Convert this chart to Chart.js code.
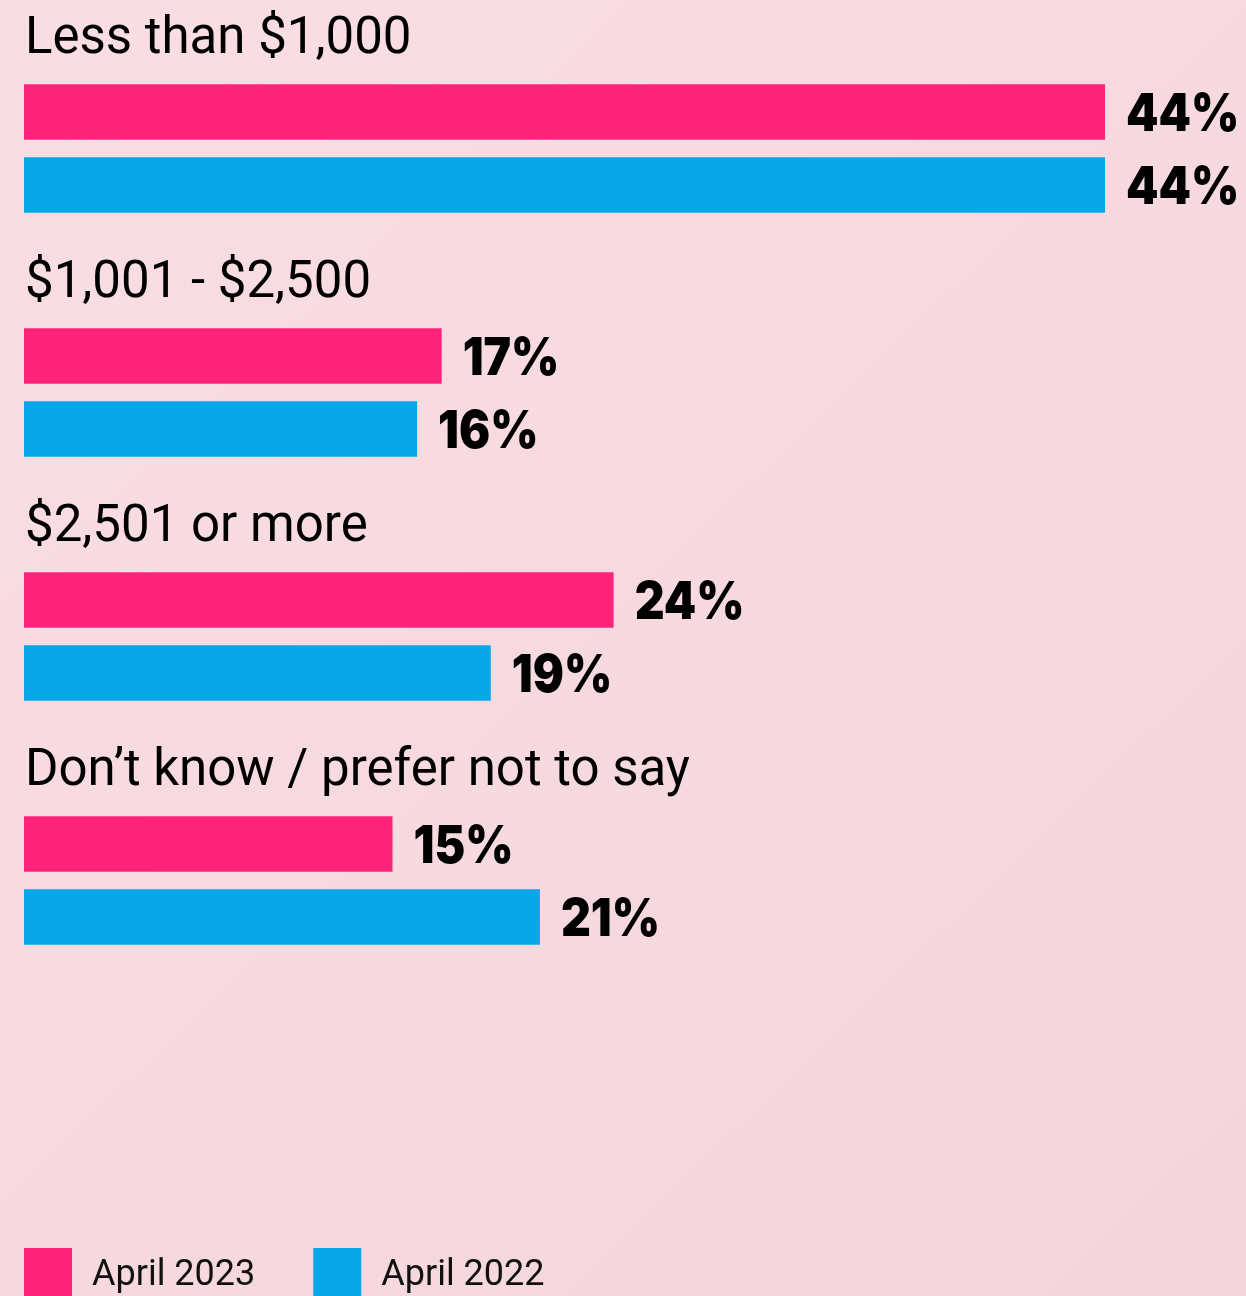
<!DOCTYPE html>
<html>
<head>
<meta charset="utf-8">
<script src="https://cdn.jsdelivr.net/npm/chart.js@4/dist/chart.umd.min.js"></script>
<style>
  html, body { margin: 0; padding: 0; background: #f8dce3; }
  canvas { display: block; }
</style>
</head>
<body>
<canvas id="spend" width="1246" height="1296"></canvas>
<script>
const categories = ['Less than $1,000', '$1,001 - $2,500', '$2,501 or more', 'Don\u2019t know / prefer not to say'];
const seriesNames = ['April 2023', 'April 2022'];
const april2023 = [44, 17, 24, 15];
const april2022 = [44, 16, 19, 21];
const seriesColors = ['#ff2479', '#09a6ea'];

const labelFont = '"Roboto", "Liberation Sans", sans-serif';
const valueFont = '"Inter", "Roboto", sans-serif';

// pink backdrop, a touch darker toward the lower right
const backdrop = {
	id: 'backdrop',
	beforeDraw: function (chart) {
		const ctx = chart.ctx;
		const g = ctx.createLinearGradient(0, 0, chart.width, chart.height);
		g.addColorStop(0, '#f9dee4');
		g.addColorStop(0.6, '#f6d9df');
		g.addColorStop(1, '#f3d4db');
		ctx.save();
		ctx.fillStyle = g;
		ctx.fillRect(0, 0, chart.width, chart.height);
		ctx.restore();
	}
};

// category headings over each pair, percentages at the bar ends, legend at the foot
const annotate = {
	id: 'annotate',
	afterDatasetsDraw: function (chart) {
		const ctx = chart.ctx;
		const area = chart.chartArea;
		const first = chart.getDatasetMeta(0).data;
		ctx.save();
		ctx.fillStyle = '#000';
		ctx.textAlign = 'left';

		ctx.font = '400 51px ' + labelFont;
		ctx.textBaseline = 'alphabetic';
		first.forEach(function (bar, i) {
			const top = bar.y - bar.height / 2;
			ctx.fillText(chart.data.labels[i], area.left + 1, top - 31);
		});

		// heavy figures, squeezed a little narrower
		ctx.font = '900 52px ' + valueFont;
		ctx.textBaseline = 'middle';
		chart.data.datasets.forEach(function (ds, d) {
			chart.getDatasetMeta(d).data.forEach(function (bar, i) {
				ctx.save();
				ctx.translate(bar.x + 21, bar.y + 3);
				ctx.scale(0.89, 1);
				ctx.fillText(ds.data[i] + '%', 0, 0);
				ctx.restore();
			});
		});

		ctx.font = '400 36px ' + labelFont;
		let x = area.left;
		const boxTop = 1248, box = 48;
		chart.data.datasets.forEach(function (ds) {
			ctx.fillStyle = ds.backgroundColor;
			ctx.fillRect(x, boxTop, box, box);
			ctx.fillStyle = '#111';
			ctx.fillText(ds.label, x + box + 20, boxTop + box / 2 + 4);
			x += box + 20 + ctx.measureText(ds.label).width + 58;
		});
		ctx.restore();
	}
};

new Chart(document.getElementById('spend'), {
	type: 'bar',
	data: {
		labels: categories,
		datasets: [
			{ label: seriesNames[0], data: april2023, backgroundColor: seriesColors[0] },
			{ label: seriesNames[1], data: april2022, backgroundColor: seriesColors[1] }
		]
	},
	options: {
		indexAxis: 'y',
		responsive: false,
		animation: false,
		layout: { padding: { left: 24, right: 141, top: 26.5, bottom: 293.5 } },
		datasets: { bar: { barPercentage: 0.76, categoryPercentage: 0.598, borderWidth: 0 } },
		scales: {
			x: { display: false, min: 0, max: 44 },
			y: { display: false }
		},
		plugins: {
			legend: { display: false },
			tooltip: { enabled: false }
		}
	},
	plugins: [backdrop, annotate]
});
</script>
</body>
</html>
